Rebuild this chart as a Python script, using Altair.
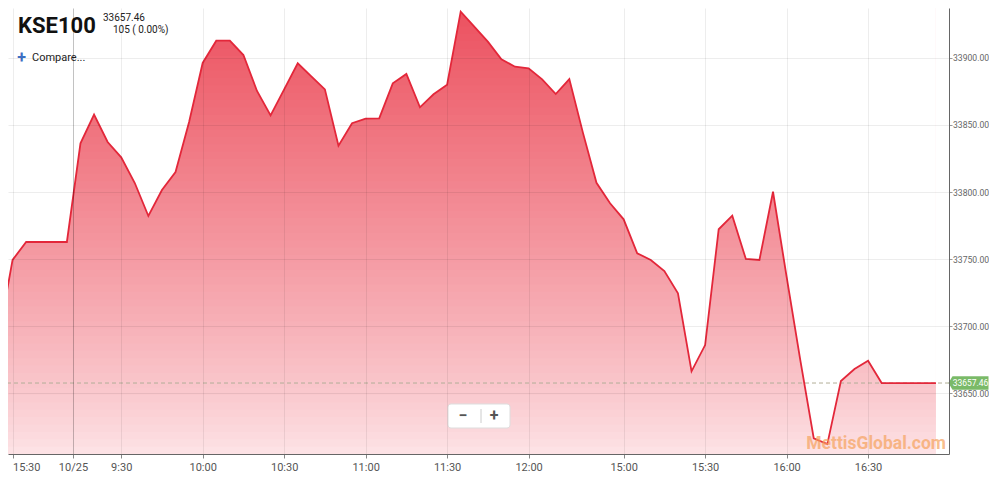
import altair as alt
import pandas as pd

# ---- data ----
slots = list(range(70))
values = [
    33693.3, 33749.3, 33762.7, 33762.7, 33762.7, 33762.7, 33836.3, 33857.7, 33837.3, 33825.9,
    33806.7, 33782.1, 33801.5, 33814.9, 33852.2, 33896.3, 33912.9, 33912.9, 33902.2, 33875.4,
    33857.2, 33876.6, 33896.0, 33886.3, 33876.6, 33834.6, 33851.3, 33854.7, 33855.0, 33881.1,
    33888.1, 33863.2, 33872.9, 33880.1, 33934.6, 33923.4, 33912.2, 33899.0, 33893.5, 33892.3,
    33884.1, 33873.1, 33884.3, 33844.3, 33806.9, 33791.6, 33779.6, 33754.3, 33749.3, 33741.0,
    33724.4, 33666.2, 33685.8, 33772.2, 33782.3, 33750.0, 33749.3, 33800.2, 33736.8, 33675.1,
    33616.2, 33611.9, 33658.9, 33667.9, 33674.1, 33657.46, 33657.46, 33657.46, 33657.46, 33657.46,
]
tick_slots = [1, 5.45, 9, 15, 21, 27, 33, 39, 46, 52, 58, 64]
tick_labels = ["15:30", "10/25", "9:30", "10:00", "10:30", "11:00", "11:30",
               "12:00", "15:00", "15:30", "16:00", "16:30"]
y_ticks = [33650, 33700, 33750, 33800, 33850, 33900]
last_value = 33657.46
title_text = "KSE100"
price_text = "33657.46"
change_text = "105 ( 0.00%)"
compare_text = "Compare..."
watermark = "MettisGlobal.com"

# ---- layout / style ----
W, H = 941, 446
x_dom = [0.663, 69.96]
y_dom = [33604.5, 33937.3]
fill_top = (236, 82, 96)      # colour of the fill at the peak
fill_bottom = (253, 228, 231)  # colour of the fill at the bottom

label_expr = "''"
for s, l in reversed(list(zip(tick_slots, tick_labels))):
    label_expr = f"datum.value == {s} ? '{l}' : ({label_expr})"

df = pd.DataFrame({"slot": slots, "value": values})
xs = alt.Scale(domain=x_dom, nice=False, zero=False)
ys = alt.Scale(domain=y_dom, nice=False, zero=False)

# vertical colour gradient of the fill, built as thin horizontal stripes
K = 60
lo, hi = y_dom[0], max(values)
rows = []
for k in range(K):
    a = lo + (hi - lo) * k / K
    b = lo + (hi - lo) * (k + 1) / K
    f = ((k + 0.5) / K) ** 0.85
    rgb = [round(fill_bottom[i] + (fill_top[i] - fill_bottom[i]) * f) for i in range(3)]
    rows.append({"a": a, "b": b + 0.6 if k < K - 1 else y_dom[1],
                 "c": "#%02x%02x%02x" % tuple(rgb)})
stripes_df = pd.DataFrame(rows)

x_axis = alt.Axis(
    orient="bottom", values=tick_slots, labelExpr=label_expr, title=None,
    grid=True, gridColor="#000000",
    gridOpacity={"condition": {"test": "datum.value == 5.45", "value": 0.24}, "value": 0.07},
    domainColor="#666666", tickColor="#888888", tickSize=4,
    labelColor="#555555", labelFontSize=11, labelFont="Roboto", labelPadding=3,
    labelOverlap=False, labelFlush=6, labelFlushOffset=0, zindex=1,
)
y_axis = alt.Axis(
    orient="right", values=y_ticks, format=".2f", title=None, grid=True,
    gridColor="#000000", gridOpacity=0.07, domainColor="#666666",
    tickColor="#999999", tickSize=3,
    labelColor="#666666", labelFontSize=8.6, labelFont="Roboto", labelPadding=0.5,
    zindex=1,
)

stripes = alt.Chart(stripes_df).mark_rect(clip=True, strokeWidth=0).encode(
    x=alt.X("xa:Q", scale=xs, axis=x_axis),
    x2="xb:Q",
    y=alt.Y("a:Q", scale=ys, axis=y_axis),
    y2="b:Q",
    color=alt.Color("c:N", scale=None),
).transform_calculate(xa=f"{x_dom[0] - 1}", xb=f"{slots[-1]}")

# white cover above the price line (hides the stripes outside the filled area)
mask = alt.Chart(df).mark_area(clip=True, color="white").encode(
    x=alt.X("slot:Q", scale=xs),
    y=alt.Y("value:Q", scale=ys),
    y2=alt.Y2("top:Q"),
).transform_calculate(top=f"{y_dom[1] + 5}")

line = alt.Chart(df).mark_line(clip=True, color="#e3273a", strokeWidth=1.8).encode(
    x=alt.X("slot:Q", scale=xs),
    y=alt.Y("value:Q", scale=ys),
)

last_df = pd.DataFrame({"v": [last_value], "t": [f"{last_value:.2f}"]})
dash = alt.Chart(last_df).mark_rule(strokeDash=[4, 3], color="#b3ae98", strokeWidth=1).encode(
    y=alt.Y("v:Q", scale=ys)
)
tag = alt.Chart(last_df).mark_point(
    shape="M -1 0 L -0.8 -0.34 L 1 -0.34 L 1 0.34 L -0.8 0.34 Z",
    filled=True, fill="#7aba68", opacity=1, size=1600, strokeWidth=0,
).encode(x=alt.value(960.5), y=alt.Y("v:Q", scale=ys))
tag_text = alt.Chart(last_df).mark_text(
    color="white", fontSize=8.5, font="Roboto", align="center", baseline="middle"
).encode(x=alt.value(962.5), y=alt.Y("v:Q", scale=ys), text="t:N")

def label(txt, x, y, **kw):
    return alt.Chart(pd.DataFrame({"t": [txt]})).mark_text(**kw).encode(
        text="t:N", x=alt.value(x), y=alt.value(y)
    )

title = label(title_text, 10, 25, font="Roboto", fontSize=22, fontWeight="bold",
              color="#111111", align="left", baseline="alphabetic")
price = label(price_text, 95, 13, font="Roboto", fontSize=10, color="#222222",
              align="left", baseline="alphabetic")
change = label(change_text, 105, 25, font="Roboto", fontSize=10, color="#222222",
               align="left", baseline="alphabetic")
plus = label("+", 13.5, 50, font="Roboto", fontSize=16, fontWeight="bold",
             color="#3d6fc3", align="center", baseline="middle")
compare = label(compare_text, 24, 50, font="Roboto", fontSize=11, color="#222222",
                align="left", baseline="middle")
wm = label(watermark, 938, 436, font="Roboto", fontSize=17.5, fontWeight="bold",
           color="#f6a35e", opacity=0.7, align="right", baseline="middle")

btn_df = pd.DataFrame({"a": [0]})
btn = alt.Chart(btn_df).mark_rect(
    fill="white", stroke="#dddddd", strokeWidth=1, cornerRadius=3
).encode(x=alt.value(440), x2=alt.value(502), y=alt.value(396), y2=alt.value(420))
btn_sep = alt.Chart(btn_df).mark_rule(color="#cccccc").encode(
    x=alt.value(473), y=alt.value(401), y2=alt.value(415)
)
minus_t = label("−", 455, 408, font="Roboto", fontSize=16, fontWeight="bold",
                color="#555555", align="center", baseline="middle")
plus_t = label("+", 486, 408, font="Roboto", fontSize=16, fontWeight="bold",
               color="#555555", align="center", baseline="middle")

chart = alt.layer(
    stripes, mask, dash, line, tag, tag_text, title, price, change, plus, compare, wm,
    btn, btn_sep, minus_t, plus_t,
).properties(
    width=W, height=H,
    autosize=alt.AutoSizeParams(type="none"),
    padding={"left": 0, "top": 0, "right": 40, "bottom": 26},
).configure(background="white", font="Roboto").configure_view(stroke=None)

chart.save("out.html", embed_options={"renderer": "svg", "actions": False})
